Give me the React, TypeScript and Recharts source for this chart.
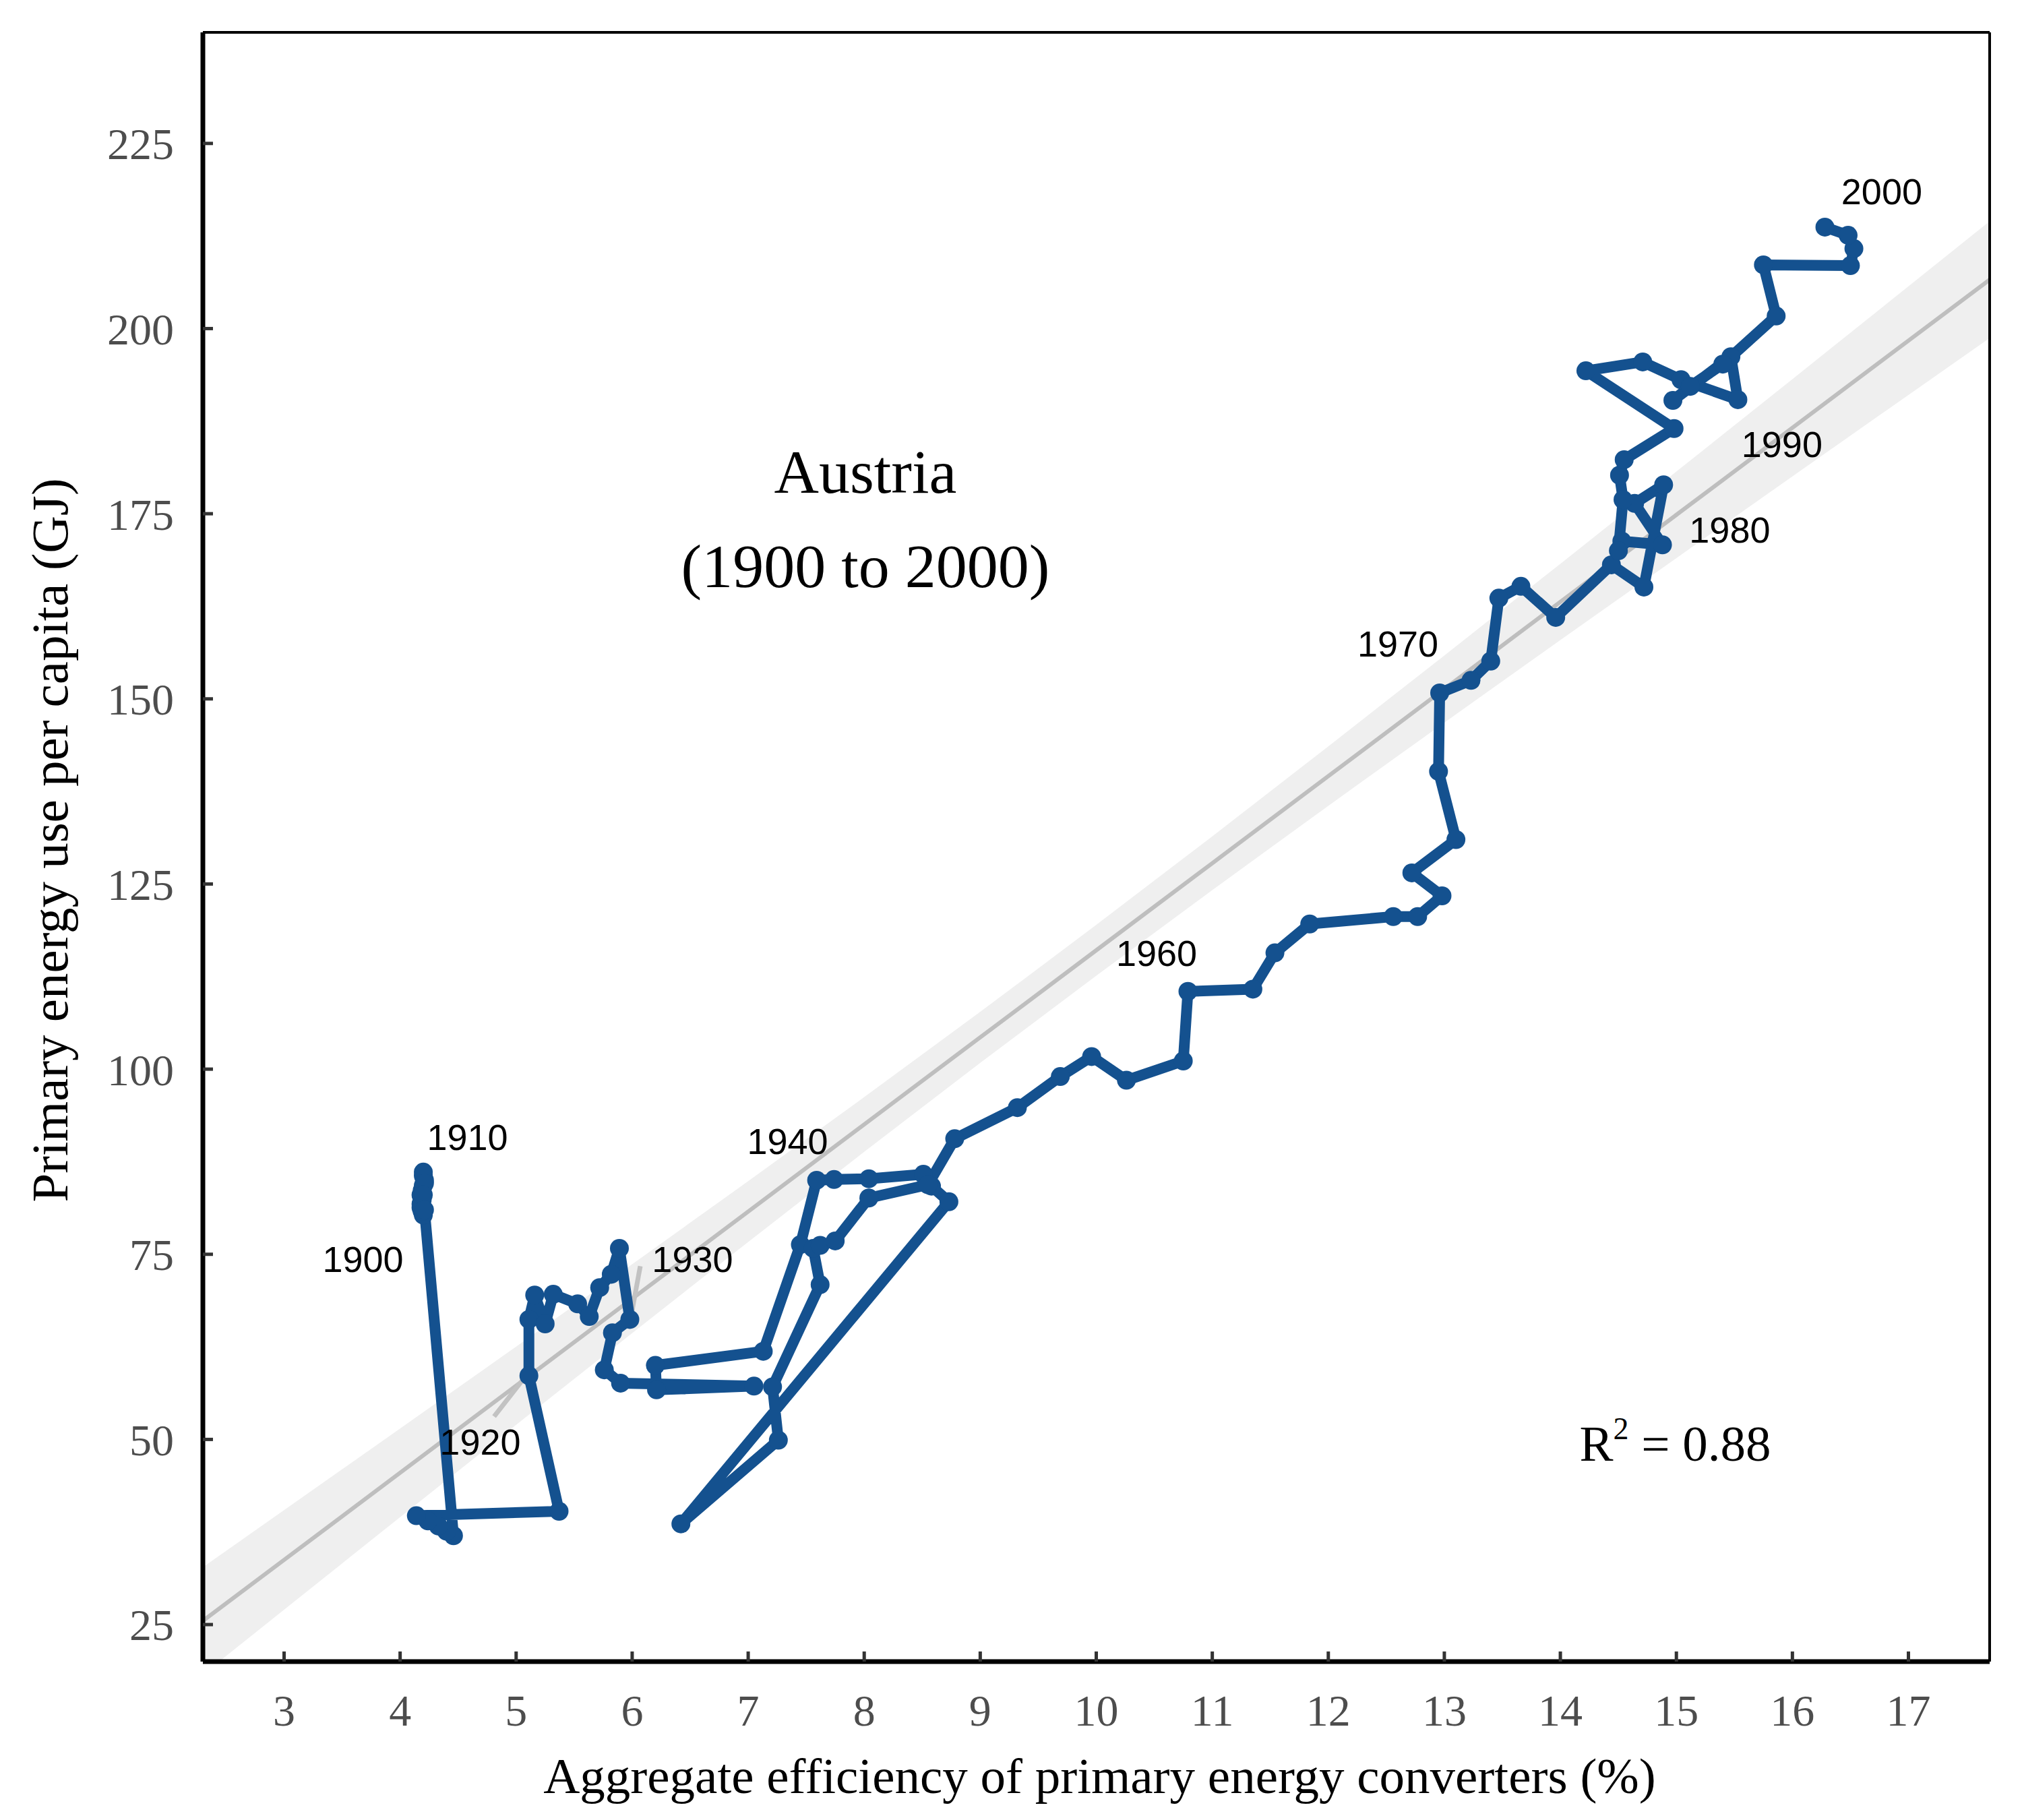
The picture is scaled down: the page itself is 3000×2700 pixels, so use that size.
import React from 'react';
import {
  ComposedChart,
  XAxis,
  YAxis,
  Area,
  Line,
  ReferenceLine,
  ReferenceDot,
} from 'recharts';

// ---------- data ----------
const START_YEAR = 1900;

// Aggregate efficiency of primary energy converters (%), 1900 .. 2000
const efficiency = [
  4.2, 4.19, 4.18, 4.18, 4.19, 4.18, 4.19, 4.2, 4.21, 4.2,
  4.2, 4.21, 4.2, 4.21, 4.46, 4.4, 4.33, 4.24, 4.14, 5.37,
  5.11, 5.11, 5.16, 5.25, 5.32, 5.53, 5.63, 5.72, 5.82, 5.89,
  5.98, 5.83, 5.76, 5.9, 7.05, 6.21, 6.2, 7.13, 7.45, 7.59,
  7.74, 8.04, 8.51, 8.58, 8.73, 6.42, 7.26, 7.21, 7.62, 7.56,
  7.62, 7.75, 8.04, 8.55, 8.78, 9.32, 9.69, 9.96, 10.26, 10.75,
  10.79, 11.35, 11.54, 11.84, 12.56, 12.77, 12.98, 12.72, 13.1, 12.95,
  12.96, 13.23, 13.4, 13.47, 13.66, 13.96, 14.44, 14.72, 14.89, 14.64,
  14.88, 14.53, 14.5, 14.54, 14.51, 14.55, 14.98, 14.22, 14.71, 15.04,
  15.53, 15.47, 14.97, 15.12, 15.4, 15.86, 15.75, 16.5, 16.53, 16.48,
  16.28,
];

// Primary energy use per capita (GJ), 1900 .. 2000
const energyUse = [
  80.3, 80.8, 81.3, 81.8, 82.3, 83.0, 83.6, 84.3, 85.0, 85.6,
  86.1, 84.6, 83.0, 81.0, 37.0, 37.6, 38.3, 39.0, 39.7, 40.3,
  58.6, 66.2, 69.5, 65.6, 69.6, 68.3, 66.6, 70.5, 72.3, 75.8,
  66.2, 64.4, 59.4, 57.6, 57.2, 56.7, 60.0, 61.9, 76.3, 85.0,
  85.1, 85.2, 85.8, 84.2, 82.1, 38.6, 49.9, 57.1, 70.9, 75.8,
  76.2, 76.8, 82.6, 84.4, 90.6, 94.8, 99.0, 101.7, 98.5, 101.1,
  110.5, 110.8, 115.7, 119.6, 120.6, 120.6, 123.4, 126.5, 131.0, 140.2,
  150.8, 152.5, 155.1, 163.6, 165.2, 161.0, 168.1, 165.1, 178.9, 176.4,
  170.8, 171.3, 170.0, 176.9, 180.2, 182.3, 186.5, 194.3, 195.5, 193.1,
  190.4, 196.2, 190.3, 192.2, 195.2, 201.7, 208.6, 208.5, 210.8, 212.6,
  213.7,
];

const years = efficiency.map((_, i) => START_YEAR + i);

// Linear fit and its confidence band
const bandX = [2.3, 3, 4, 5, 6, 7, 8, 9, 10, 11, 12, 13, 14, 15, 16, 17, 17.7];
const fitY = [25.5, 33.73, 45.49, 57.25, 69.01, 80.77, 92.53, 104.29, 116.05, 127.81, 139.57, 151.33, 163.09, 174.85, 186.61, 198.37, 206.6];
const bandLow = [18.25, 27.01, 39.51, 51.97, 64.36, 76.67, 88.84, 100.84, 112.62, 124.18, 135.56, 146.8, 157.94, 169.01, 180.04, 191.04, 198.72];
const bandHigh = [32.75, 40.45, 51.47, 62.53, 73.66, 84.87, 96.22, 107.74, 119.48, 131.44, 143.58, 155.86, 168.24, 180.69, 193.18, 205.7, 214.48];

// Decade labels
const labelText = ['1900', '1910', '1920', '1930', '1940', '1960', '1970', '1980', '1990', '2000'];
const labelX = [3.68, 4.58, 4.69, 6.52, 7.34, 10.52, 12.6, 15.46, 15.91, 16.77];
const labelY = [74.4, 90.8, 49.7, 74.4, 90.3, 115.7, 157.5, 172.8, 184.4, 218.5];

// Label leader segments (1920, 1930)
const leaderFrom = [{ x: 4.81, y: 53.1 }, { x: 6.07, y: 73.4 }];
const leaderTo = [{ x: 5.06, y: 58.1 }, { x: 5.99, y: 66.6 }];

const xTicks = [3, 4, 5, 6, 7, 8, 9, 10, 11, 12, 13, 14, 15, 16, 17];
const yTicks = [25, 50, 75, 100, 125, 150, 175, 200, 225];

const titleLines = ['Austria', '(1900 to 2000)'];
const titleX = 8.01;
const titleY = [180.8, 168.1];

const rSquared = '0.88';
const rSquaredPos = { x: 14.99, y: 47.1 };

const xTitle = 'Aggregate efficiency of primary energy converters (%)';
const yTitle = 'Primary energy use per capita (GJ)';

// ---------- derived tables ----------
const pathData = years.map((year, i) => ({ year, x: efficiency[i], y: energyUse[i] }));
const bandData = bandX.map((x, i) => ({ x, fit: fitY[i], band: [bandLow[i], bandHigh[i]] }));

const BLUE = '#14518f';
const SERIF = '"Liberation Serif", "Times New Roman", serif';
const SANS = '"Liberation Sans", Arial, sans-serif';

const renderXTitle = (props: any) => {
  const vb = props.viewBox;
  return (
    <text
      x={vb.x + vb.width / 2 + 5}
      y={vb.y + 195}
      textAnchor="middle"
      fontFamily={SERIF}
      fontSize={75}
      fill="#000"
    >
      {xTitle}
    </text>
  );
};

const renderYTitle = (props: any) => {
  const vb = props.viewBox;
  const cx = vb.x - 1;
  const cy = vb.y + vb.height / 2 - 10;
  return (
    <text
      x={cx}
      y={cy}
      transform={`rotate(-90, ${cx}, ${cy})`}
      textAnchor="middle"
      fontFamily={SERIF}
      fontSize={77}
      fill="#000"
    >
      {yTitle}
    </text>
  );
};

const renderR2 = (props: any) => {
  const vb = props.viewBox;
  return (
    <text x={vb.x} y={vb.y} textAnchor="middle" fontFamily={SERIF} fontSize={75} fill="#000">
      <tspan>R</tspan>
      <tspan fontSize={46} dy={-32}>2</tspan>
      <tspan dy={32}>{` = ${rSquared}`}</tspan>
    </text>
  );
};

export default function App() {
  return (
    <div style={{ position: 'absolute', left: 0, top: 0, width: 3000, height: 2700, background: '#ffffff' }}>
      <ComposedChart
        width={3000}
        height={2700}
        data={bandData}
        margin={{ top: 48, right: 48, bottom: 0, left: 101 }}
      >
        <XAxis
          type="number"
          dataKey="x"
          domain={[2.3, 17.7]}
          allowDataOverflow
          ticks={xTicks}
          interval={0}
          height={235}
          tickSize={-15}
          tickMargin={63}
          tick={{ fill: '#4d4d4d', fontSize: 66, fontFamily: SERIF }}
          tickLine={{ stroke: '#333333', strokeWidth: 5 }}
          axisLine={{ stroke: '#000000', strokeWidth: 7 }}
          label={renderXTitle}
        />
        <YAxis
          type="number"
          domain={[20, 240]}
          allowDataOverflow
          ticks={yTicks}
          interval={0}
          width={200}
          tickSize={-15}
          tickMargin={58}
          tick={{ fill: '#4d4d4d', fontSize: 66, fontFamily: SERIF }}
          tickLine={{ stroke: '#333333', strokeWidth: 5 }}
          axisLine={{ stroke: '#000000', strokeWidth: 7 }}
          label={renderYTitle}
        />
        <Area
          type="linear"
          dataKey="band"
          fill="#efefef"
          fillOpacity={1}
          stroke="none"
          isAnimationActive={false}
          activeDot={false}
        />
        <Line
          type="linear"
          dataKey="fit"
          stroke="#bebebe"
          strokeWidth={6}
          dot={false}
          activeDot={false}
          isAnimationActive={false}
        />
        <ReferenceLine y={240} stroke="#000000" strokeWidth={4} />
        <ReferenceLine x={17.7} stroke="#000000" strokeWidth={4} />
        {leaderFrom.map((p, i) => (
          <ReferenceLine
            key={`leader-${i}`}
            segment={[p, leaderTo[i]]}
            stroke="#c2c2c2"
            strokeWidth={7}
          />
        ))}
        <Line
          data={pathData}
          type="linear"
          dataKey="y"
          stroke={BLUE}
          strokeWidth={16}
          strokeLinejoin="round"
          strokeLinecap="round"
          dot={{ r: 14, fill: BLUE, stroke: 'none' }}
          activeDot={false}
          isAnimationActive={false}
        />
        {labelText.map((t, i) => (
          <ReferenceDot
            key={`lbl-${t}`}
            x={labelX[i]}
            y={labelY[i]}
            r={0}
            fill="none"
            stroke="none"
            label={{ value: t, position: 'center', fontSize: 54, fontFamily: SANS, fill: '#000000' }}
          />
        ))}
        {titleLines.map((t, i) => (
          <ReferenceDot
            key={`title-${i}`}
            x={titleX}
            y={titleY[i]}
            r={0}
            fill="none"
            stroke="none"
            label={{ value: t, position: 'center', fontSize: 92, fontFamily: SERIF, fill: '#000000' }}
          />
        ))}
        <ReferenceDot
          x={rSquaredPos.x}
          y={rSquaredPos.y}
          r={0}
          fill="none"
          stroke="none"
          label={renderR2}
        />
      </ComposedChart>
    </div>
  );
}
